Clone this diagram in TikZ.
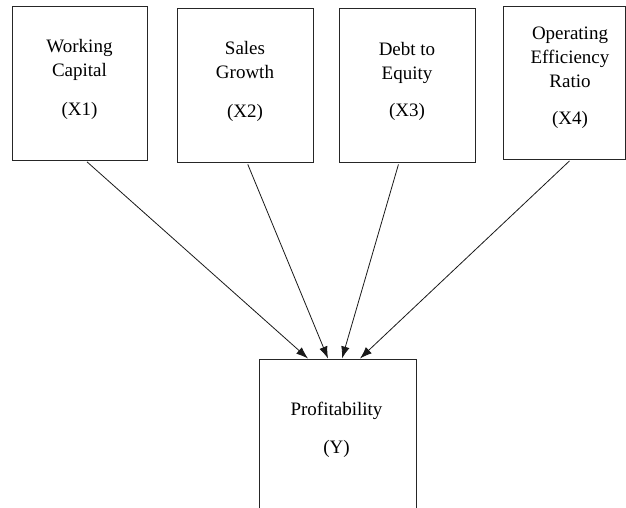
\documentclass[tikz,border=0pt]{standalone}
\usepackage{fontspec}
\setmainfont{Liberation Serif}
\newfontfamily\lblfont{Liberation Serif}
\usetikzlibrary{positioning,arrows.meta}

\begin{document}
\begin{tikzpicture}[x=1pt,y=-1pt,
    box/.style={draw=black!85,line width=1pt,inner sep=0pt},
    lbl/.style={align=center,inner sep=0pt,anchor=north,
        font=\lblfont\fontsize{19}{24}\selectfont},
    link/.style={-{Latex[length=12pt,width=8.5pt]},line width=0.8pt,
        draw=black!90,shorten <=2pt}]
    \useasboundingbox (0,0) rectangle (626,508);

    % Independent variables
    \node[box,minimum width=135pt,minimum height=153pt] (x1) at (79.5,83.5) {};
    \node[box,minimum width=136pt,minimum height=153pt] (x2) at (245,85.5) {};
    \node[box,minimum width=136pt,minimum height=153pt] (x3) at (407,85.5) {};
    \node[box,minimum width=122pt,minimum height=152pt] (x4) at (564,83) {};

    \node[lbl] (x1lbl) at (79.5,39.5) {Working\\Capital\\[15pt](X1)};
    \node[lbl] (x2lbl) at (245,41.5) {Sales\\Growth\\[15pt](X2)};
    \node[lbl] (x3lbl) at (407,42.5) {Debt to\\Equity\\[13pt](X3)};
    \node[lbl] (x4lbl) at (570,27) {Operating\\Efficiency\\Ratio\\[13pt](X4)};

    % Dependent variable (runs past the bottom edge)
    \node[box,minimum width=157pt,minimum height=181pt] (y) at (337.5,449.5) {};
    \node[lbl] (ylbl) at (336.5,402) {Profitability\\[14pt](Y)};

    % Arrows
    \draw[link] ([xshift=6pt]x1.south) -- ([xshift=-29.5pt]y.north);
    \draw[link] ([xshift=2pt]x2.south) -- ([xshift=-9.5pt]y.north);
    \draw[link] ([xshift=-8pt]x3.south) -- ([xshift=4.5pt]y.north);
    \draw[link] ([xshift=7pt]x4.south) -- ([xshift=22.5pt]y.north);
\end{tikzpicture}
\end{document}
